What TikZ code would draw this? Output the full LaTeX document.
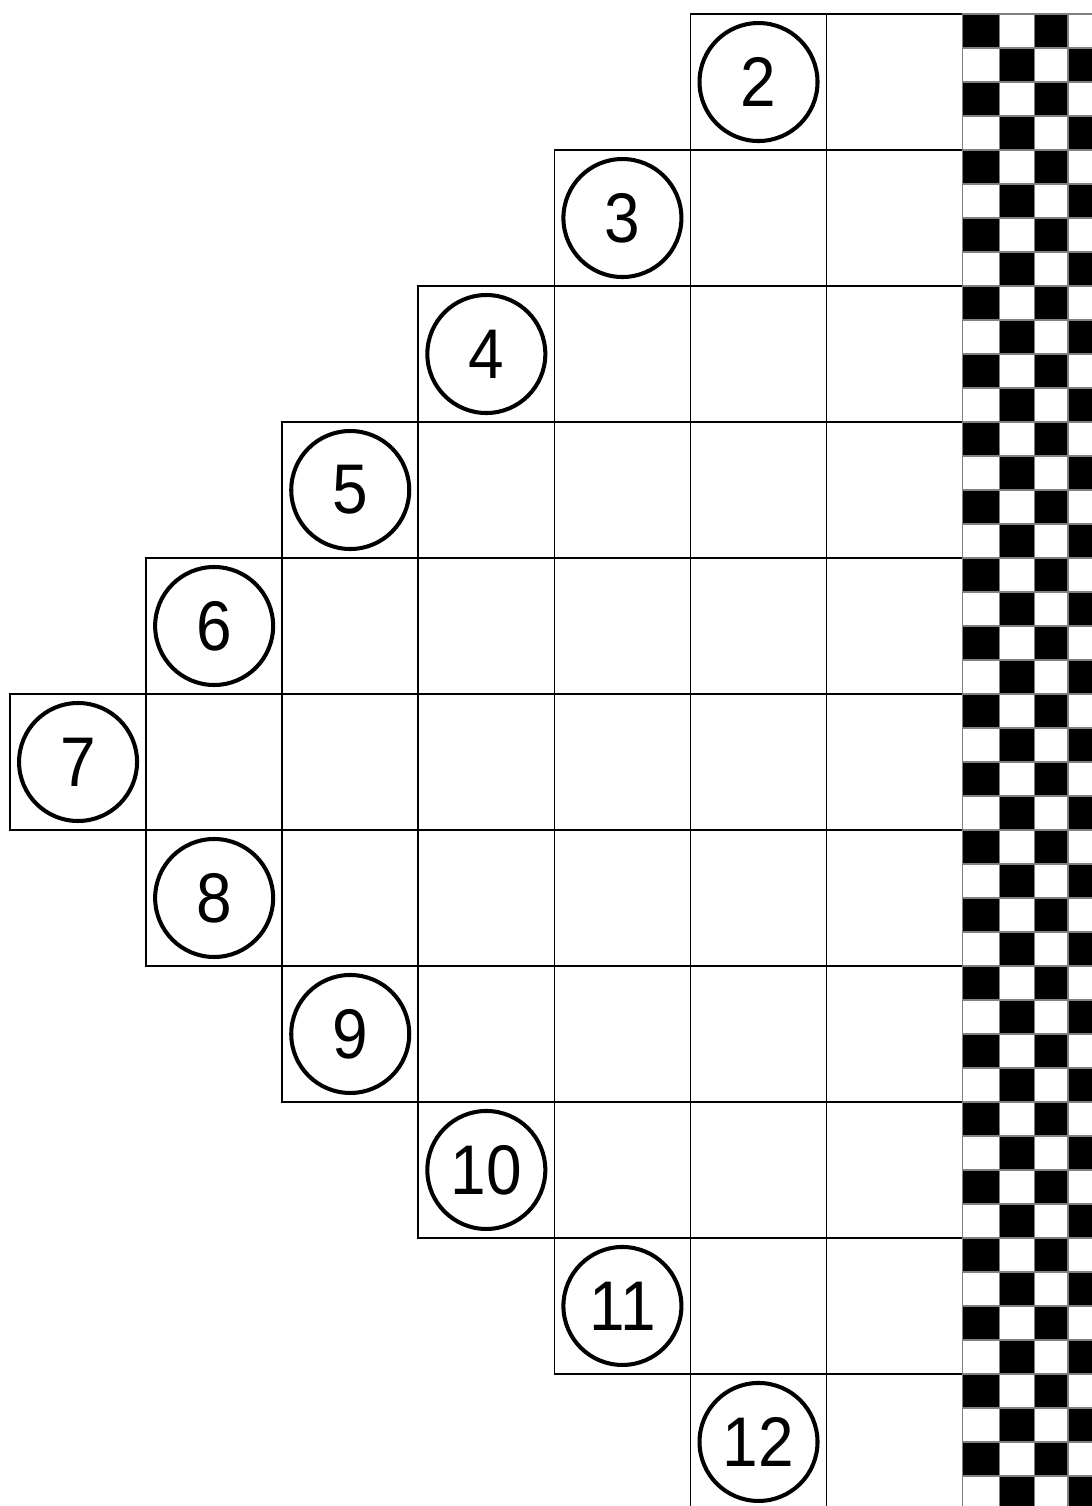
\documentclass[tikz,border=0pt]{standalone}
\usepackage{fontspec}
\setmainfont{Liberation Sans}

\newcommand{\stonelabel}[1]{\scalebox{0.91}[1]{#1}}

\begin{document}
\begin{tikzpicture}[
    x=1.361cm, y=-1.36cm,
    % --- STYLES ---
    cell/.style={draw=black, line width=0.45pt},
    stone/.style={
        circle, draw=black, fill=white,
        line width=1.15pt,
        minimum size=1.18cm,
        inner sep=0pt,
        font=\fontsize{20}{24}\selectfont
    },
    square/.style={draw=black!50, line width=0.45pt}
]

% ===== 1. FRAME =====
\useasboundingbox (-0.0735,-0.103) rectangle (7.95,10.971);
\clip (-0.0735,-0.103) rectangle (7.95,10.971);

% ===== 2. STAIRCASE OF CELLS & NUMBERED STONES =====
\foreach \r in {0,...,10} {
    \pgfmathtruncatemacro{\lead}{abs(\r-5)}
    \pgfmathtruncatemacro{\stoneno}{\r+2}
    \foreach \c in {\lead,...,6}
        \draw[cell] (\c,\r) rectangle ++(1,1);
    \node[stone] (s\stoneno) at (\lead+0.5,\r+0.5) {\stonelabel{\stoneno}};
}

% ===== 3. CHEQUERED STRIP =====
% column edges of the strip, in cell units from the left
\foreach \i in {0,...,43}
    \foreach \j/\xa/\xb in {0/7/7.272, 1/7.272/7.529, 2/7.529/7.772, 3/7.772/8.03} {
        \pgfmathtruncatemacro{\tone}{mod(\i+\j,2)}
        \ifnum\tone=0 \def\shade{black}\else\def\shade{white}\fi
        \draw[square, fill=\shade] (\xa,0.25*\i) rectangle (\xb,0.25*\i+0.25);
    }

\end{tikzpicture}
\end{document}
